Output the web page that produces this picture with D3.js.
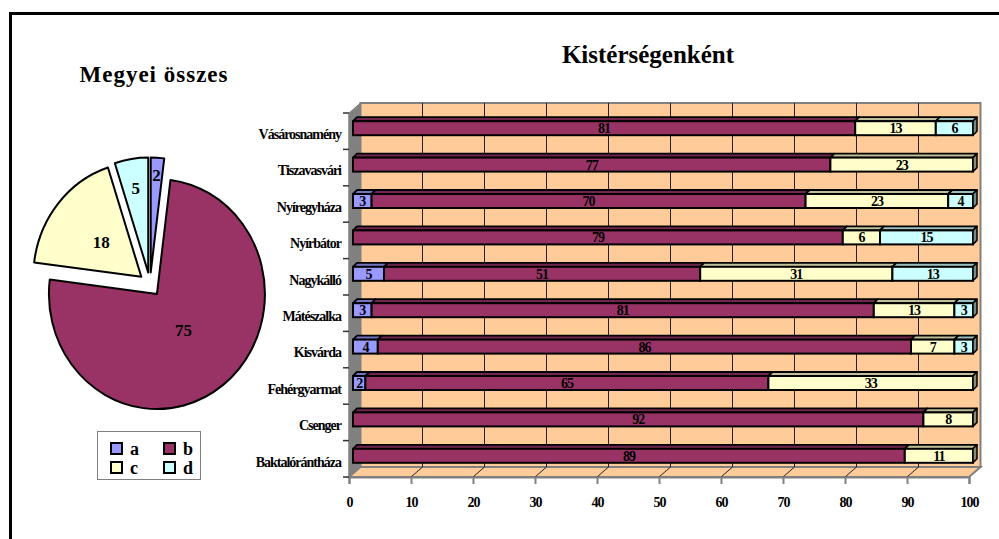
<!DOCTYPE html>
<html>
<head>
<meta charset="utf-8">
<script src="https://cdn.jsdelivr.net/npm/d3@7"></script>
<style>
  html, body { margin: 0; padding: 0; background: #fff; }
  svg { display: block; }
  text { font-family: "Liberation Serif", "Times New Roman", serif; font-weight: bold; fill: #000; }
</style>
</head>
<body>
<svg id="chart" width="999" height="539"></svg>
<script>
// ---------- DATA ----------
const categories = ["Vásárosnamény", "Tiszavasvári", "Nyíregyháza", "Nyírbátor", "Nagykálló",
                    "Mátészalka", "Kisvárda", "Fehérgyarmat", "Csenger", "Baktalórántháza"];
const seriesNames = ["a", "b", "c", "d"];
const aValues = [0, 0, 3, 0, 5, 3, 4, 2, 0, 0];
const bValues = [81, 77, 70, 79, 51, 81, 86, 65, 92, 89];
const cValues = [13, 23, 23, 6, 31, 13, 7, 33, 8, 11];
const dValues = [6, 0, 4, 15, 13, 3, 3, 0, 0, 0];
const pieValues = [2, 75, 18, 5];
const xTickValues = [0, 10, 20, 30, 40, 50, 60, 70, 80, 90, 100];
const pieTitle = "Megyei összes";
const barTitle = "Kistérségenként";

// ---------- STYLE ----------
const seriesColors = ["#9999FF", "#993366", "#FFFFCC", "#CCFFFF"];
const wallColor = "#FFCC99";
const wallGray = "#808080";

const svg = d3.select("#chart");

// outer frame (left + top)
svg.append("path")
  .attr("d", "M10.5,539 L10.5,13.5 L999,13.5")
  .attr("fill", "none").attr("stroke", "#000").attr("stroke-width", 3);

// ---------- BAR CHART ----------
const x = d3.scaleLinear().domain([0, 100]).range([349, 969]);
const y = d3.scaleBand().domain(categories).range([113, 477]);
const depthX = 11.5, depthY = -10;     // wall depth
const barOffX = 4, barOffY = -3;       // bar front face offset from front plane
const barDX = 4, barDY = -4;           // bar depth
const barH = 14;

const plot = svg.append("g");
const x0 = x(0), x1 = x(100), yTop = y.range()[0], yBot = y.range()[1];

// back wall
plot.append("rect")
  .attr("x", x0 + depthX).attr("y", yTop + depthY)
  .attr("width", x1 - x0).attr("height", yBot - yTop)
  .attr("fill", wallColor).attr("stroke", wallGray).attr("stroke-width", 2);
// left wall
plot.append("path")
  .attr("d", `M${x0},${yTop} L${x0 + depthX},${yTop + depthY} L${x0 + depthX},${yBot + depthY} L${x0},${yBot} Z`)
  .attr("fill", wallGray).attr("stroke", wallGray).attr("stroke-width", 1);
// floor
plot.append("path")
  .attr("d", `M${x0},${yBot} L${x1},${yBot} L${x1 + depthX},${yBot + depthY} L${x0 + depthX},${yBot + depthY} Z`)
  .attr("fill", wallColor).attr("stroke", wallGray).attr("stroke-width", 2);

// gridlines on back wall and floor
const gridVals = xTickValues.filter(v => v > 0 && v < 100);
plot.selectAll(".gridBack").data(gridVals).join("line")
  .attr("x1", d => x(d) + depthX).attr("x2", d => x(d) + depthX)
  .attr("y1", yTop + depthY).attr("y2", yBot + depthY)
  .attr("stroke", "#222").attr("stroke-width", 1);
plot.selectAll(".gridFloor").data(gridVals.concat([])).join("line")
  .attr("x1", d => x(d)).attr("x2", d => x(d) + depthX)
  .attr("y1", yBot).attr("y2", yBot + depthY)
  .attr("stroke", "#222").attr("stroke-width", 1);

// bars
const seriesArrays = [aValues, bValues, cValues, dValues];
const rows = categories.map((c, i) => ({ cat: c, vals: seriesArrays.map(s => s[i]) }));

function shade(col, k) {
  const c = d3.rgb(col);
  return d3.rgb(c.r * k, c.g * k, c.b * k).formatHex();
}

const barsG = plot.append("g");
rows.forEach(row => {
  const yc = y(row.cat) + y.bandwidth() / 2 + barOffY;
  const yt = yc - barH / 2, yb = yc + barH / 2;
  let cum = 0;
  const segs = [];
  row.vals.forEach((v, si) => {
    if (v > 0) segs.push({ si, v, s: cum, e: cum + v });
    cum += v;
  });
  const g = barsG.append("g");
  segs.forEach((sg, k) => {
    const xa = x(sg.s) + barOffX, xb = x(sg.e) + barOffX;
    const col = seriesColors[sg.si];
    // top face
    g.append("path")
      .attr("d", `M${xa},${yt} L${xa + barDX},${yt + barDY} L${xb + barDX},${yt + barDY} L${xb},${yt} Z`)
      .attr("fill", shade(col, 0.75)).attr("stroke", "#000").attr("stroke-width", 1.8)
      .attr("stroke-linejoin", "round");
    // front face
    g.append("rect")
      .attr("x", xa).attr("y", yt).attr("width", xb - xa).attr("height", barH)
      .attr("fill", col).attr("stroke", "#000").attr("stroke-width", 2);
    if (k === segs.length - 1) {
      g.append("path")
        .attr("d", `M${xb},${yt} L${xb + barDX},${yt + barDY} L${xb + barDX},${yb + barDY} L${xb},${yb} Z`)
        .attr("fill", shade(col, 0.55)).attr("stroke", "#000").attr("stroke-width", 1.5)
        .attr("stroke-linejoin", "round");
    }
  });
  // labels
  segs.forEach(sg => {
    const xa = x(sg.s) + barOffX, xb = x(sg.e) + barOffX;
    g.append("text")
      .attr("x", (xa + xb) / 2).attr("y", yc)
      .attr("dy", "0.36em")
      .attr("text-anchor", "middle")
      .style("font-size", "14px").style("letter-spacing", "-1px")
      .text(sg.v);
  });
});

// value axis
const xAxis = d3.axisBottom(x).tickValues(xTickValues).tickSize(7).tickPadding(13).tickFormat(d3.format("d"));
const xAxisG = svg.append("g").attr("transform", `translate(0,${yBot})`).call(xAxis);
xAxisG.select(".domain").attr("stroke", wallGray).attr("stroke-width", 2);
xAxisG.selectAll(".tick line").attr("stroke", wallGray).attr("stroke-width", 2);
xAxisG.selectAll(".tick text")
  .style("font-family", "'Liberation Serif', serif").style("font-weight", "bold")
  .style("font-size", "14px").style("letter-spacing", "-1px").attr("fill", "#000");

// category axis
const yAxis = d3.axisLeft(y).tickSize(0).tickPadding(8);
const yAxisG = svg.append("g").attr("transform", `translate(${x0},0)`).call(yAxis);
yAxisG.select(".domain").attr("stroke", wallGray).attr("stroke-width", 2);
yAxisG.selectAll(".tick text")
  .attr("dy", "0.55em")
  .style("font-family", "'Liberation Serif', serif").style("font-weight", "bold")
  .style("font-size", "14px").style("letter-spacing", "-1px").attr("fill", "#000");
// boundary ticks
const boundaries = categories.map(c => y(c)).concat([yBot]);
svg.append("g").selectAll("line").data(boundaries).join("line")
  .attr("x1", x0 - 6).attr("x2", x0)
  .attr("y1", d => d).attr("y2", d => d)
  .attr("stroke", "#333").attr("stroke-width", 1.5);

// bar title
svg.append("text")
  .attr("x", 648).attr("y", 63)
  .attr("text-anchor", "middle")
  .style("font-size", "25px")
  .text(barTitle);

// ---------- PIE ----------
svg.append("text")
  .attr("x", 154).attr("y", 82)
  .attr("text-anchor", "middle")
  .style("font-size", "23px").style("letter-spacing", "1px")
  .text(pieTitle);

const pieR = 108, explode = 11.3;
const pieGen = d3.pie().sort(null).value(d => d);
const arcGen = d3.arc().innerRadius(0).outerRadius(pieR);
const arcs = pieGen(pieValues);
const labelFrac = [0.85, 0.40, 0.48, 0.74];

const pieG = svg.append("g").attr("transform", "translate(150,284.5) scale(1,1.065)");
arcs.forEach((a, i) => {
  const mid = (a.startAngle + a.endAngle) / 2;
  const ox = Math.sin(mid) * explode, oy = -Math.cos(mid) * explode;
  pieG.append("path")
    .attr("d", arcGen(a))
    .attr("transform", `translate(${ox},${oy})`)
    .attr("fill", seriesColors[i])
    .attr("stroke", "#000").attr("stroke-width", 2)
    .attr("stroke-linejoin", "round")
    .attr("vector-effect", "non-scaling-stroke");
});
arcs.forEach((a, i) => {
  const mid = (a.startAngle + a.endAngle) / 2;
  const r = explode + labelFrac[i] * pieR;
  const lx = 150 + Math.sin(mid) * r;
  const ly = 284.5 - Math.cos(mid) * r * 1.065;
  svg.append("text")
    .attr("x", lx).attr("y", ly).attr("dy", "0.35em")
    .attr("text-anchor", "middle")
    .style("font-size", "17px")
    .text(a.data);
});

// legend
const legG = svg.append("g");
legG.append("rect")
  .attr("x", 97.5).attr("y", 431.5).attr("width", 103).attr("height", 48)
  .attr("fill", "#fff").attr("stroke", wallGray).attr("stroke-width", 1);
seriesNames.forEach((name, i) => {
  const col = i % 2, row = Math.floor(i / 2);
  const sx = 111 + col * 53, sy = 443 + row * 19;
  legG.append("rect")
    .attr("x", sx).attr("y", sy).attr("width", 11).attr("height", 11)
    .attr("fill", seriesColors[i]).attr("stroke", "#000").attr("stroke-width", 2);
  legG.append("text")
    .attr("x", sx + 19).attr("y", sy + 5.5).attr("dy", "0.35em")
    .style("font-size", "18px")
    .text(name);
});
</script>
</body>
</html>
